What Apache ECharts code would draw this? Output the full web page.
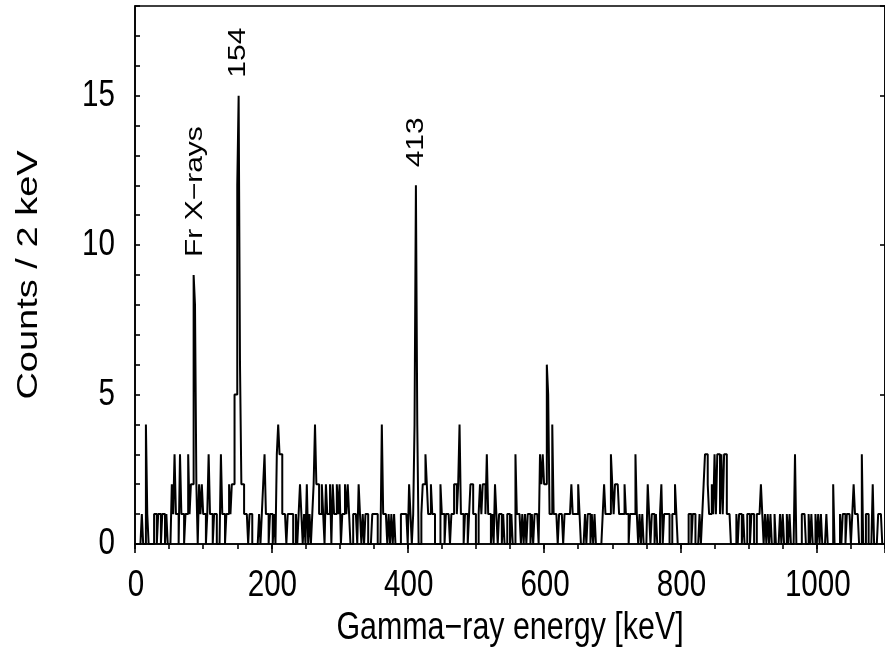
<!DOCTYPE html>
<html><head><meta charset="utf-8">
<script src="https://cdn.jsdelivr.net/npm/echarts@6/dist/echarts.min.js"></script>
<style>html,body{margin:0;padding:0;background:#fff}#c{width:885px;height:649px}</style>
</head><body><div id="c"></div>
<script>
// Histogram: counts per 2-keV bin, first bin starts at 0 keV; one row = 100 keV
const binWidthKeV = 2;
const counts = [
  0,0,0,0,0,1,0,0,4,1, 0,0,0,0,1,1,0,1,1,0, 1,1,0,1,0,0,0,2,1,3, 1,1,0,3,1,1,0,1,1,3, 1,2,2,9,8,2,0,2,1,2,
  1,1,0,1,3,1,1,0,1,1, 0,0,0,3,1,1,0,1,1,2, 1,2,2,5,5,12,15,6,2,2, 1,1,1,0,1,1,0,0,0,0, 0,1,0,1,2,3,1,1,0,1,
  1,0,1,0,3,4,3,3,1,1, 1,0,1,1,1,1,0,0,1,0, 1,2,1,0,1,0,2,0,1,0, 1,2,4,2,2,1,1,2,1,0, 2,1,1,2,0,2,1,1,2,1,
  2,0,1,1,2,1,2,1,0,0, 1,1,1,0,2,1,0,1,0,1, 1,0,0,0,1,1,1,1,0,0, 0,4,1,1,1,0,1,0,1,0, 1,0,0,0,0,1,1,1,1,1,
  0,2,1,0,1,4,12,4,0,0, 1,2,2,3,2,1,1,2,1,1, 0,0,0,0,2,1,1,0,1,1, 1,0,1,1,2,2,1,2,4,1, 1,0,1,1,0,1,2,2,1,1,
  0,0,1,2,1,2,2,1,3,1, 1,0,1,0,2,1,0,1,1,0, 1,0,0,1,1,0,1,0,0,3, 1,1,1,0,1,0,1,0,1,1, 0,1,0,1,1,1,0,3,2,3,
  2,2,6,5,1,1,4,1,1,1, 0,1,1,1,0,1,1,1,1,1, 2,1,1,1,1,2,1,0,0,0, 1,0,1,1,0,1,0,1,0,0, 0,0,0,1,2,1,1,1,1,3,
  2,1,2,2,2,1,1,1,1,2, 1,1,0,1,1,1,1,3,1,0, 1,0,1,0,0,0,2,1,0,1, 1,0,1,0,0,1,2,0,1,1, 1,1,0,0,1,1,2,1,0,0,
  0,0,0,0,0,0,1,1,0,1, 1,0,0,0,1,0,1,2,3,3, 2,1,1,2,1,3,1,3,3,1, 3,1,3,3,1,1,1,0,0,0, 0,1,0,1,1,0,1,0,0,1,
  1,0,1,1,0,0,1,1,1,2, 1,0,1,0,1,0,1,0,0,1, 0,0,0,1,0,1,0,0,1,0, 1,0,0,0,3,0,0,0,0,1, 1,1,0,0,1,0,1,0,0,1,
  0,1,0,1,0,0,0,1,0,0, 0,0,2,0,0,0,0,1,0,1, 1,0,1,1,1,0,1,2,1,1, 1,0,0,3,0,0,1,1,0,0, 0,2,0,0,0,1,1,1,0,0
];
const xTickLabels = [0, 200, 400, 600, 800, 1000];
const yTickLabels = [0, 5, 10, 15];
const annotationTexts = ['Fr X\u2212rays', '154', '413'];
const annotationEnergies = [88, 152, 413];
const annotationCounts = [9, 15, 12];
const xTitle = 'Gamma\u2212ray energy [keV]';
const yTitle = 'Counts / 2 keV';

// step-outline points: left edge of each bin + closing right edge
const histPoints = counts.map((c, i) => [i * binWidthKeV, c]);
histPoints.push([counts.length * binWidthKeV, counts[counts.length - 1]]);

const fam = '"Liberation Sans", Arial, Helvetica, sans-serif';
const lw = 1.6;

const chart = echarts.init(document.getElementById('c'), null, {renderer: 'canvas'});
chart.setOption({
  animation: false,
  backgroundColor: '#fff',
  grid: {left: 135, top: 6, width: 753.5, height: 538, show: true, borderColor: '#000', borderWidth: lw, containLabel: false},
  xAxis: [
    {type: 'value', min: 0, max: 1100, interval: 200, position: 'bottom',
     axisLine: {show: true, onZero: false, lineStyle: {color: '#000', width: lw}},
     axisTick: {show: true, inside: false, length: 9, lineStyle: {color: '#000', width: lw}},
     axisLabel: {show: false}, splitLine: {show: false}},
    {type: 'value', min: 0, max: 1100, interval: 50, position: 'bottom',
     axisLine: {show: false}, axisLabel: {show: false}, splitLine: {show: false},
     axisTick: {show: true, inside: false, length: 5, lineStyle: {color: '#000', width: lw}}}
  ],
  yAxis: [
    {type: 'value', min: 0, max: 18, interval: 1, position: 'left',
     axisLine: {show: true, onZero: false, lineStyle: {color: '#000', width: lw}},
     axisTick: {show: true, inside: true, length: 5, lineStyle: {color: '#000', width: lw}},
     axisLabel: {show: false}, splitLine: {show: false}},
    {type: 'value', min: 0, max: 18, interval: 5, position: 'right',
     axisLine: {show: true, onZero: false, lineStyle: {color: '#000', width: lw}},
     axisTick: {show: true, inside: true, length: 5, lineStyle: {color: '#000', width: lw}},
     axisLabel: {show: false}, splitLine: {show: false}}
  ],
  series: [
    {type: 'line', step: 'end', data: histPoints, xAxisIndex: 0, yAxisIndex: 0,
     symbol: 'none', lineStyle: {color: '#000', width: 2}, z: 3}
  ]
});

// Text (tick labels, titles, peak annotations) placed through the axis scales,
// drawn slightly condensed like the original figure.
function txt(x, y, text, size, opts) {
  return Object.assign({
    type: 'text', x: x, y: y, silent: true, z: 100,
    style: {text: text, font: size + 'px ' + fam, fill: '#000',
            align: 'center', verticalAlign: 'middle', textAlign: 'center', textVerticalAlign: 'middle'}
  }, opts || {});
}
const g = [];
const labelSize = 37, squeeze = 0.8;
xTickLabels.forEach(v => {
  const px = chart.convertToPixel({xAxisIndex: 0}, v);
  g.push(txt(px + 1, 586, String(v), labelSize, {scaleX: squeeze}));
});
yTickLabels.forEach(v => {
  const py = chart.convertToPixel({yAxisIndex: 0}, v);
  const t = txt(115, py, String(v), labelSize, {scaleX: squeeze});
  t.style.align = 'right'; t.style.textAlign = 'right';
  g.push(t);
});
const y0 = chart.convertToPixel({yAxisIndex: 0}, 0), y1 = chart.convertToPixel({yAxisIndex: 0}, 18);
g.push(txt(510, 629, xTitle, 38, {scaleX: squeeze}));
g.push(txt(29, (y0 + y1) / 2, yTitle, 38, {rotation: Math.PI / 2, scaleY: squeeze}));
annotationTexts.forEach((t, i) => {
  const p = chart.convertToPixel({seriesIndex: 0}, [annotationEnergies[i], annotationCounts[i]]);
  const el = txt(p[0], p[1] - 18, t, 30, {rotation: Math.PI / 2, scaleY: squeeze});
  el.style.align = 'left'; el.style.textAlign = 'left';
  g.push(el);
});
chart.setOption({graphic: g});
</script></body></html>
